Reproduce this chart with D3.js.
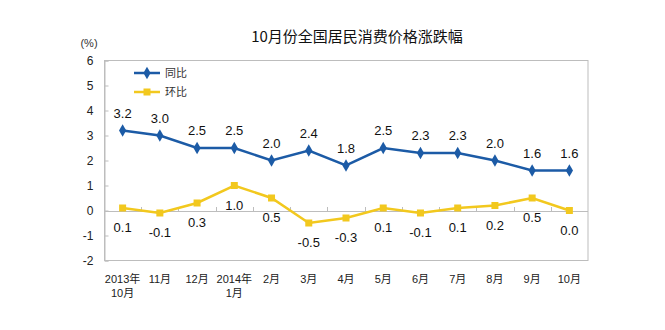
<!DOCTYPE html>
<html><head><meta charset="utf-8">
<script src="https://cdn.jsdelivr.net/npm/d3@7"></script>
<style>body{margin:0;background:#fff;}svg{display:block;}</style>
</head><body>
<svg id="c" width="665" height="330"></svg>
<script>
const categories = [["2013年","10月"],["11月"],["12月"],["2014年","1月"],["2月"],["3月"],["4月"],["5月"],["6月"],["7月"],["8月"],["9月"],["10月"]];
const tongbi = [3.2,3.0,2.5,2.5,2.0,2.4,1.8,2.5,2.3,2.3,2.0,1.6,1.6];
const huanbi = [0.1,-0.1,0.3,1.0,0.5,-0.5,-0.3,0.1,-0.1,0.1,0.2,0.5,0.0];
const yTicks = [-2,-1,0,1,2,3,4,5,6];
const seriesNames = ["同比","环比"];
const title = "10月份全国居民消费价格涨跌幅";
const unit = "(%)";

const blue = "#1c5ba6", yellow = "#f2c81e", gray = "#bdbdbd";
const fontNum = "'Liberation Sans', Arial, 'Noto Sans CJK SC', sans-serif";
const hy = s => s.replace("\u2212","-");
const svg = d3.select("#c");
const L = 104, R = 588, T = 60.5, B = 260.5;
const keys = categories.map((d,i)=>i);
const x = d3.scaleBand().domain(keys).range([L,R]);
const y = d3.scaleLinear().domain([-2,6]).range([B,T]);
const cx = i => x(i) + x.bandwidth()/2;

// plot frame
svg.append("rect").attr("x",L+0.5).attr("y",T).attr("width",R-L-0.5).attr("height",B-T)
  .attr("fill","none").attr("stroke",gray).attr("stroke-width",1);

// y axis
const yAxis = d3.axisLeft(y).tickValues(yTicks).tickSize(-4).tickPadding(11).tickFormat(d=>hy(d3.format("d")(d)));
const ga = svg.append("g").attr("transform",`translate(${L+0.5},0)`).call(yAxis);
ga.select(".domain").attr("stroke",gray);
ga.selectAll(".tick line").attr("stroke",gray);
ga.selectAll(".tick text").attr("font-family",fontNum).attr("font-size",12).attr("fill","#222");

// zero line with category ticks
svg.append("line").attr("x1",L).attr("x2",R).attr("y1",Math.round(y(0))+0.5).attr("y2",Math.round(y(0))+0.5).attr("stroke",gray);
svg.append("g").selectAll("line").data(keys.slice(1)).join("line")
  .attr("x1",d=>Math.round(x(d))+0.5).attr("x2",d=>Math.round(x(d))+0.5)
  .attr("y1",Math.round(y(0))+0.5).attr("y2",Math.round(y(0))-4).attr("stroke",gray);

// category labels
const cl = svg.append("g").attr("font-family",fontNum).attr("font-size",11).attr("fill","#222").attr("text-anchor","middle");
categories.forEach((lines,i)=>{
  lines.forEach((t,j)=>{
    cl.append("text").attr("x",cx(i)).attr("y",283+j*14).text(t);
  });
});

// title & unit
svg.append("text").attr("x",357).attr("y",42).attr("text-anchor","middle")
  .attr("font-family","'Noto Sans CJK SC', sans-serif").attr("font-size",15).attr("fill","#111").text(title);
svg.append("text").attr("x",89).attr("y",47).attr("text-anchor","middle")
  .attr("font-family",fontNum).attr("font-size",11).attr("fill","#333").text(unit);

// lines
const line = d3.line().x((d,i)=>cx(i)).y(d=>y(d));
svg.append("path").datum(tongbi).attr("d",line).attr("fill","none").attr("stroke",blue).attr("stroke-width",2.5);
svg.append("path").datum(huanbi).attr("d",line).attr("fill","none").attr("stroke",yellow).attr("stroke-width",2.5);

// markers
const diamond = d3.symbol().type(d3.symbolDiamond).size(45);
svg.append("g").selectAll("path").data(tongbi).join("path")
  .attr("d",diamond).attr("transform",(d,i)=>`translate(${cx(i)},${y(d)})`).attr("fill",blue);
svg.append("g").selectAll("rect").data(huanbi).join("rect")
  .attr("x",(d,i)=>cx(i)-3.5).attr("y",d=>y(d)-3.5).attr("width",7).attr("height",7).attr("fill",yellow);

// data labels
const f1 = d => hy(d3.format(".1f")(d));
const lab = svg.append("g").attr("font-family",fontNum).attr("font-size",13).attr("fill","#111").attr("text-anchor","middle");
tongbi.forEach((d,i)=>lab.append("text").attr("x",cx(i)).attr("y",y(d)-13).text(f1(d)));
huanbi.forEach((d,i)=>lab.append("text").attr("x",cx(i)).attr("y",y(d)+24).text(f1(d)));

// legend
const lg = svg.append("g");
[blue,yellow].forEach((c,k)=>{
  const yy = 73 + k*19;
  lg.append("line").attr("x1",134).attr("x2",160).attr("y1",yy).attr("y2",yy).attr("stroke",c).attr("stroke-width",2.5);
  if(k===0) lg.append("path").attr("d",diamond).attr("transform",`translate(147,${yy})`).attr("fill",c);
  else lg.append("rect").attr("x",143.5).attr("y",yy-3.5).attr("width",7).attr("height",7).attr("fill",c);
  lg.append("text").attr("x",165).attr("y",yy+4).attr("font-family","'Noto Sans CJK SC', sans-serif")
    .attr("font-size",11).attr("fill","#333").text(seriesNames[k]);
});
</script>
</body></html>
